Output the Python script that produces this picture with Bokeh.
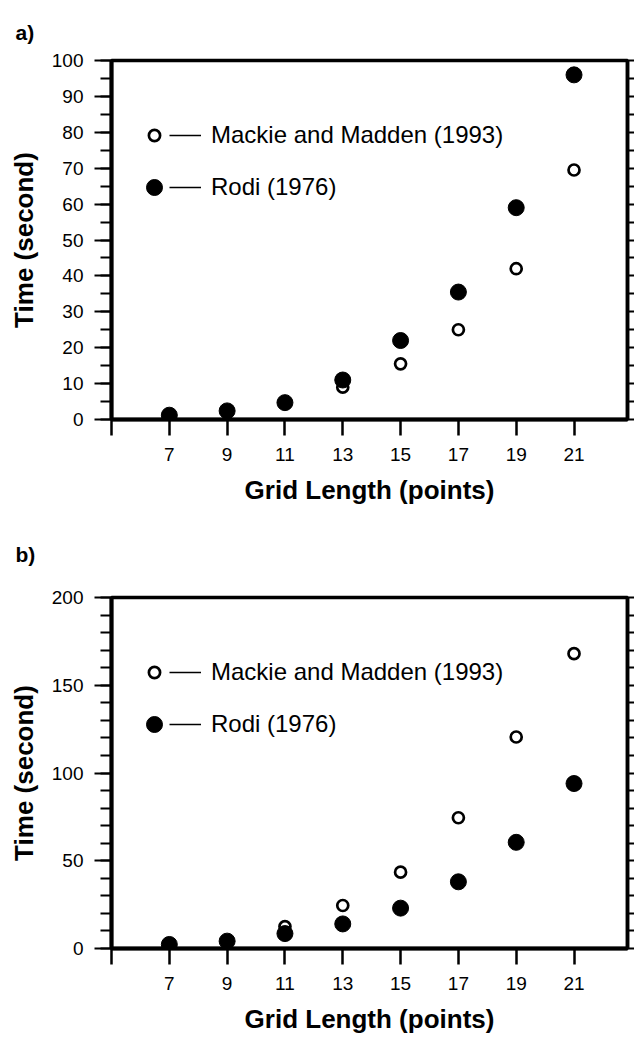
from bokeh.plotting import figure
from bokeh.models import Range1d, FixedTicker, LinearAxis, Legend, LegendItem
from bokeh.layouts import column
from bokeh.embed import file_html
from bokeh.resources import INLINE

# ---- data ----
grid_points = [7, 9, 11, 13, 15, 17, 19, 21]

a_mackie = [1.0, 2.0, 4.5, 9.0, 15.5, 25.0, 42.0, 69.5]
a_rodi = [1.2, 2.4, 4.7, 11.0, 22.0, 35.5, 59.0, 96.0]

b_mackie = [2.0, 4.0, 12.5, 24.5, 43.5, 74.5, 120.5, 168.0]
b_rodi = [2.3, 4.2, 8.5, 14.0, 23.0, 38.0, 60.5, 94.0]

series_labels = ["Mackie and Madden (1993)", "Rodi (1976)"]
panel_tags = ["a)", "b)"]
x_title = "Grid Length (points)"
y_title = "Time (second)"

x_major_ticks = [7, 9, 11, 13, 15, 17, 19, 21]
x_edge_ticks = [5]

a_y_major = list(range(0, 101, 10))
a_y_minor = list(range(0, 101, 5))
b_y_major = list(range(0, 201, 50))
b_y_minor = list(range(0, 201, 10))

FONT = "Liberation Sans"


def make_panel(tag, mackie, rodi, ymax, ymajor, yminor, right_ticks,
               border_top, border_bottom, frame_h, title_standoff):
    p = figure(frame_width=516, frame_height=frame_h,
               x_range=Range1d(5, 22.85), y_range=Range1d(0, ymax),
               output_backend="svg", toolbar_location=None,
               min_border_left=111, min_border_top=border_top,
               min_border_bottom=border_bottom, min_border_right=0,
               x_axis_type=None, y_axis_type=None)
    p.grid.visible = False
    p.background_fill_color = "white"
    p.border_fill_color = "white"
    p.outline_line_color = "black"
    p.outline_line_width = 3.5

    p.title.text = tag
    p.title.align = "left"
    p.title.offset = 15 - 111
    p.title.text_font = FONT
    p.title.text_font_size = "21px"
    p.title.text_font_style = "bold"
    p.title.text_color = "black"
    p.title.standoff = title_standoff

    # bottom axis
    xa = LinearAxis(ticker=FixedTicker(ticks=x_major_ticks, minor_ticks=x_edge_ticks))
    xa.axis_label = x_title
    xa.axis_label_text_font = FONT
    xa.axis_label_text_font_size = "26px"
    xa.axis_label_text_font_style = "bold"
    xa.axis_label_text_color = "black"
    xa.axis_label_standoff = 11
    xa.major_label_text_font = FONT
    xa.major_label_text_font_size = "19px"
    xa.major_label_text_color = "black"
    xa.major_label_standoff = 12
    xa.axis_line_width = 4
    xa.major_tick_out = 16
    xa.major_tick_in = 0
    xa.minor_tick_out = 16
    xa.minor_tick_in = 0
    xa.major_tick_line_width = 2.5
    xa.minor_tick_line_width = 2.5
    p.add_layout(xa, "below")

    # left axis
    ya = LinearAxis(ticker=FixedTicker(ticks=ymajor, minor_ticks=yminor))
    ya.axis_label = y_title
    ya.axis_label_text_font = FONT
    ya.axis_label_text_font_size = "26px"
    ya.axis_label_text_font_style = "bold"
    ya.axis_label_text_color = "black"
    ya.axis_label_standoff = 10
    ya.major_label_text_font = FONT
    ya.major_label_text_font_size = "19px"
    ya.major_label_text_color = "black"
    ya.major_label_standoff = 11
    ya.axis_line_width = 4
    ya.major_tick_out = 17
    ya.major_tick_in = 0
    ya.minor_tick_out = 11
    ya.minor_tick_in = 0
    ya.major_tick_line_width = 2
    ya.minor_tick_line_width = 2
    p.add_layout(ya, "left")

    # right axis (unlabelled ticks only)
    ra = LinearAxis(ticker=FixedTicker(ticks=[], minor_ticks=right_ticks))
    ra.major_label_standoff = 0
    ra.axis_line_width = 3.5
    ra.major_tick_out = 7
    ra.major_tick_in = 0
    ra.minor_tick_out = 7
    ra.minor_tick_in = 0
    ra.minor_tick_line_width = 2
    p.add_layout(ra, "right")

    open_r = p.scatter(grid_points, mackie, marker="circle", size=11,
                       fill_color="white", line_color="black", line_width=2.7)
    fill_r = p.scatter(grid_points, rodi, marker="circle", size=16,
                       fill_color="black", line_color="black", line_width=1)
    # legend-only line key (its single point has no y value, so nothing is drawn in the plot)
    line_r = p.line(x=grid_points[:1], y=[float("nan")], line_color="black", line_width=1.3)

    common = dict(padding=0, margin=0, border_line_color=None,
                  background_fill_alpha=0, label_text_font=FONT,
                  label_text_font_size="24px", label_text_color="black")

    leg_open = Legend(items=[LegendItem(label="", renderers=[open_r])],
                      location=(29, frame_h - 89), glyph_width=28,
                      glyph_height=28, label_standoff=0, label_width=0,
                      **common)
    leg_fill = Legend(items=[LegendItem(label="", renderers=[fill_r])],
                      location=(23, frame_h - 147), glyph_width=40,
                      glyph_height=40, label_standoff=0, label_width=0,
                      **common)
    leg_text = Legend(items=[LegendItem(label=series_labels[0], renderers=[line_r]),
                             LegendItem(label=series_labels[1], renderers=[line_r])],
                      location=(58, frame_h - 142), glyph_width=32,
                      glyph_height=30, spacing=22, label_standoff=10,
                      label_height=30, **common)
    for lg in (leg_open, leg_fill, leg_text):
        p.add_layout(lg)
    return p


pa = make_panel(panel_tags[0], a_mackie, a_rodi, 100, a_y_major, a_y_minor,
                a_y_minor, 60, 90, 359, 34)
pb = make_panel(panel_tags[1], b_mackie, b_rodi, 200, b_y_major, b_y_minor,
                b_y_minor, 88, 88, 351, 63)

layout = column(pa, pb, spacing=0)
open("out.html", "w").write(file_html(layout, INLINE))
